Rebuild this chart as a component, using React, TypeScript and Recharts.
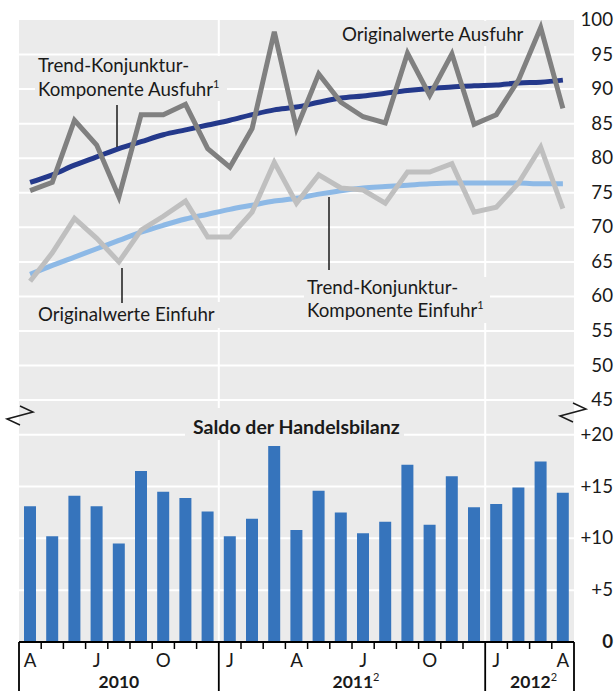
import React from 'react';
import { ComposedChart, Bar, Line, XAxis, YAxis, CartesianGrid } from 'recharts';

const MONTHS = [
  'Apr 2010', 'Mai 2010', 'Jun 2010', 'Jul 2010', 'Aug 2010', 'Sep 2010', 'Okt 2010', 'Nov 2010', 'Dez 2010',
  'Jan 2011', 'Feb 2011', 'Mär 2011', 'Apr 2011', 'Mai 2011', 'Jun 2011', 'Jul 2011', 'Aug 2011', 'Sep 2011',
  'Okt 2011', 'Nov 2011', 'Dez 2011', 'Jan 2012', 'Feb 2012', 'Mär 2012', 'Apr 2012',
];
const MONTH_TICKS = ['A', '', '', 'J', '', '', 'O', '', '', 'J', '', '', 'A', '', '', 'J', '', '', 'O', '', '', 'J', '', '', 'A'];
const YEARS = [
  { label: '2010', note: '', first: 0, last: 8 },
  { label: '2011', note: '2', first: 9, last: 20 },
  { label: '2012', note: '2', first: 21, last: 24 },
];

const AUSFUHR_ORIG = [75.3, 76.5, 85.5, 81.9, 74.4, 86.3, 86.3, 87.8, 81.4, 78.7, 84.3, 98.3, 84.3, 92.2, 88.1, 86.0, 85.1, 95.2, 89.1, 95.1, 84.9, 86.3, 91.3, 98.9, 87.2];
const AUSFUHR_TREND = [76.5, 77.6, 79.0, 80.2, 81.4, 82.4, 83.4, 84.1, 84.8, 85.5, 86.3, 87.0, 87.4, 88.1, 88.7, 89.0, 89.4, 89.8, 90.1, 90.3, 90.5, 90.6, 90.9, 91.0, 91.3];
const EINFUHR_ORIG = [62.2, 66.3, 71.3, 68.4, 65.0, 69.6, 71.6, 73.8, 68.6, 68.6, 72.2, 79.4, 73.5, 77.6, 75.7, 75.4, 73.5, 78.0, 78.0, 79.2, 72.2, 72.9, 76.4, 81.6, 72.7];
const EINFUHR_TREND = [63.2, 64.5, 65.7, 66.9, 68.1, 69.3, 70.3, 71.2, 71.9, 72.6, 73.2, 73.8, 74.2, 74.8, 75.3, 75.7, 75.9, 76.1, 76.3, 76.4, 76.4, 76.4, 76.4, 76.3, 76.3];
const SALDO = [13.1, 10.2, 14.1, 13.1, 9.5, 16.5, 14.5, 13.9, 12.6, 10.2, 11.9, 18.9, 10.8, 14.6, 12.5, 10.5, 11.6, 17.1, 11.3, 16.0, 13.0, 13.3, 14.9, 17.4, 14.4];

const LINE_TICKS = [45, 50, 55, 60, 65, 70, 75, 80, 85, 90, 95, 100];
const LINE_GRID = [45, 50, 55, 60, 65, 70, 75, 80, 85, 90, 95];
const SALDO_TICKS = [0, 5, 10, 15, 20];
const SALDO_GRID = [5, 10, 15, 20];
const LINE_DOMAIN: [number, number] = [10, 100];
const SALDO_DOMAIN: [number, number] = [0, 60];
const YEAR_BOUNDARIES = [9, 21];

const DATA = MONTHS.map((m, i) => ({
  m,
  ausOrig: AUSFUHR_ORIG[i],
  ausTrend: AUSFUHR_TREND[i],
  einOrig: EINFUHR_ORIG[i],
  einTrend: EINFUHR_TREND[i],
  saldo: SALDO[i],
}));

const FONT = "Lato, 'Noto Sans', sans-serif";
const TEXT = '#1a1a1a';
const BG = '#ebebeb';
const FS = 18.7;
const W = 616;
const H = 691;
const MARGIN = { top: 20, right: 0, bottom: 0, left: 19 };
const BAR_AXIS_W = 1;
const LINE_AXIS_W = 41;
const X_AXIS_H = 49;
const N = MONTHS.length;
const PLOT_W = W - MARGIN.left - MARGIN.right - BAR_AXIS_W - LINE_AXIS_W;
const HALF_BAND = PLOT_W / N / 2;
const LABEL_RIGHT = W - 3;

const hGen = (values: number[], domain: [number, number]) => (p: any) => {
  const { yAxis, offset } = p || {};
  return values.map((v) =>
    yAxis && typeof yAxis.scale === 'function'
      ? yAxis.scale(v)
      : offset.top + (offset.height * (domain[1] - v)) / (domain[1] - domain[0])
  );
};

const vGen = (p: any) => {
  const { xAxis, offset } = p || {};
  return YEAR_BOUNDARIES.map((i) =>
    xAxis && typeof xAxis.scale === 'function' && typeof xAxis.scale(MONTHS[i]) === 'number'
      ? xAxis.scale(MONTHS[i])
      : offset.left + (offset.width * i) / N
  );
};

const XTick = (props: any) => {
  const { x, y, payload } = props;
  const i = payload && typeof payload.index === 'number' ? payload.index : props.index;
  const label = MONTH_TICKS[i];
  const year = YEARS.find((yr) => yr.first === i);
  const isYearStart = !!year;
  return (
    <g>
      <line x1={x - HALF_BAND} x2={x - HALF_BAND} y1={y} y2={y + (isYearStart ? X_AXIS_H : 7)} stroke="#000" strokeWidth={isYearStart ? 1.8 : 1.5} />
      {i === N - 1 && <line x1={x + HALF_BAND} x2={x + HALF_BAND} y1={y} y2={y + X_AXIS_H} stroke="#000" strokeWidth={1.8} />}
      {label && (
        <text x={x} y={y + 25} textAnchor="middle" fontSize={FS} fill={TEXT} fontFamily={FONT}>
          {label}
        </text>
      )}
      {year && (
        <text
          x={x - HALF_BAND + (year.last - year.first + 1) * HALF_BAND + (year.note ? 4 : 0)}
          y={y + 46}
          textAnchor="middle"
          fontSize={17.5}
          fontWeight={700}
          fill={TEXT}
          fontFamily={FONT}
        >
          {year.label}
          {year.note && (
            <tspan dy={-7} fontSize={11} fontWeight={400}>
              {year.note}
            </tspan>
          )}
        </text>
      )}
    </g>
  );
};

const LineTick = (props: any) => {
  const { y, payload } = props;
  return (
    <text x={LABEL_RIGHT} y={y} dy={6} textAnchor="end" fontSize={FS} fill={TEXT} fontFamily={FONT}>
      {payload.value}
    </text>
  );
};

const SaldoTick = (props: any) => {
  const { y, payload } = props;
  const v = payload.value;
  return (
    <text x={LABEL_RIGHT} y={y} dy={6} textAnchor="end" fontSize={FS} fontWeight={v === 0 ? 700 : 400} fill={TEXT} fontFamily={FONT}>
      {v === 0 ? '0' : '+' + v}
    </text>
  );
};

const Break = ({ a, b }: { a: number; b: number }) => (
  <polyline
    points={`${a + 13},${b} ${a + 26},${b + 6} ${a},${b + 13} ${a + 13},${b + 19}`}
    fill="none"
    stroke={TEXT}
    strokeWidth={1.5}
  />
);

const Overlay = () => (
  <svg width={W} height={H} style={{ position: 'absolute', left: 0, top: 0, pointerEvents: 'none' }} fontFamily={FONT}>
    <rect x={35} y={56} width={192} height={45} fill={BG} />
    <text x={38} y={72} fontSize={FS} fill={TEXT}>Trend-Konjunktur-</text>
    <text x={38} y={96} fontSize={FS} fill={TEXT}>
      Komponente Ausfuhr<tspan dy={-8} fontSize={11}>1</tspan>
    </text>
    <line x1={117} x2={117} y1={105} y2={147} stroke={TEXT} strokeWidth={1.5} />

    <rect x={338} y={21} width={192} height={25} fill={BG} />
    <text x={342} y={41} fontSize={FS} fill={TEXT}>Originalwerte Ausfuhr</text>

    <rect x={35} y={302} width={190} height={26} fill={BG} />
    <text x={38} y={321} fontSize={FS} fill={TEXT}>Originalwerte Einfuhr</text>
    <line x1={122} x2={122} y1={268} y2={303} stroke={TEXT} strokeWidth={1.5} />

    <rect x={304} y={277} width={186} height={46} fill={BG} />
    <text x={307} y={294} fontSize={FS} fill={TEXT}>Trend-Konjunktur-</text>
    <text x={307} y={317} fontSize={FS} fill={TEXT}>
      Komponente Einfuhr<tspan dy={-8} fontSize={11}>1</tspan>
    </text>
    <line x1={329} x2={329} y1={197} y2={270} stroke={TEXT} strokeWidth={1.5} />

    <rect x={185} y={408} width={219} height={32} fill={BG} />
    <text x={193} y={434} fontSize={19.5} fontWeight={700} fill={TEXT}>Saldo der Handelsbilanz</text>

    <Break a={7} b={406} />
    <Break a={560} b={403} />
  </svg>
);

export default function App() {
  return (
    <div style={{ position: 'absolute', left: 0, top: 0, width: W, height: H, background: '#fff' }}>
      <ComposedChart width={W} height={H} data={DATA} margin={MARGIN}>
        <CartesianGrid
          yAxisId="line"
          fill={BG}
          stroke="#fff"
          strokeWidth={2}
          horizontalCoordinatesGenerator={hGen(LINE_GRID, LINE_DOMAIN)}
          verticalCoordinatesGenerator={vGen}
        />
        <CartesianGrid
          yAxisId="bar"
          stroke="#fff"
          strokeWidth={2}
          vertical={false}
          horizontalCoordinatesGenerator={hGen(SALDO_GRID, SALDO_DOMAIN)}
        />
        <XAxis
          dataKey="m"
          interval={0}
          height={X_AXIS_H}
          tickSize={0}
          tickMargin={0}
          tickLine={false}
          axisLine={{ stroke: '#000', strokeWidth: 2 }}
          tick={<XTick />}
        />
        <YAxis
          yAxisId="bar"
          orientation="right"
          type="number"
          width={BAR_AXIS_W}
          domain={SALDO_DOMAIN}
          ticks={SALDO_TICKS}
          interval={0}
          allowDataOverflow
          axisLine={false}
          tickLine={false}
          tickSize={0}
          tickMargin={0}
          tick={<SaldoTick />}
        />
        <YAxis
          yAxisId="line"
          orientation="right"
          type="number"
          width={LINE_AXIS_W}
          domain={LINE_DOMAIN}
          ticks={LINE_TICKS}
          interval={0}
          allowDataOverflow
          axisLine={false}
          tickLine={false}
          tickSize={0}
          tickMargin={0}
          tick={<LineTick />}
        />
        <Bar yAxisId="bar" dataKey="saldo" fill="#3674bc" barSize={12} isAnimationActive={false} />
        <Line yAxisId="line" dataKey="einTrend" type="monotone" stroke="#8db9e6" strokeWidth={5} dot={false} activeDot={false} isAnimationActive={false} />
        <Line yAxisId="line" dataKey="ausTrend" type="monotone" stroke="#24398b" strokeWidth={5} dot={false} activeDot={false} isAnimationActive={false} />
        <Line yAxisId="line" dataKey="einOrig" type="linear" stroke="#bfbfbf" strokeWidth={5} strokeLinejoin="miter" dot={false} activeDot={false} isAnimationActive={false} />
        <Line yAxisId="line" dataKey="ausOrig" type="linear" stroke="#808080" strokeWidth={5} strokeLinejoin="miter" dot={false} activeDot={false} isAnimationActive={false} />
      </ComposedChart>
      <Overlay />
    </div>
  );
}
